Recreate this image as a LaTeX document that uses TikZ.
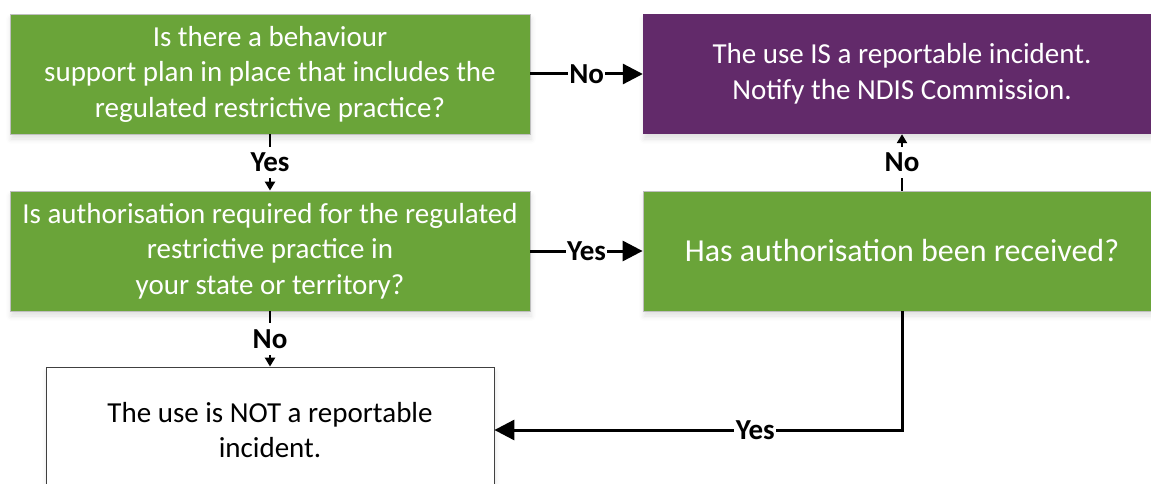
\documentclass[tikz,border=0pt]{standalone}
\usepackage{fontspec}
\setmainfont{Carlito}
\usetikzlibrary{arrows.meta,shadows.blur}
\definecolor{boxgreen}{HTML}{6AA439}
\definecolor{boxpurple}{HTML}{622A6A}
\begin{document}
\begin{tikzpicture}[x=1pt,y=-1pt,
  boxshadow/.style={blur shadow={shadow xshift=1pt,shadow yshift=-5pt,shadow opacity=12,shadow blur radius=5pt}},
  basebox/.style={rectangle, inner sep=0pt, align=center, font=\fontsize{29}{35.5}\selectfont, boxshadow},
  greenbox/.style={basebox, fill=boxgreen, draw=black!25, line width=0.8pt, text=white, minimum width=520pt, minimum height=120pt},
  purplebox/.style={basebox, fill=boxpurple, text=white, minimum width=518pt, minimum height=120pt},
  whitebox/.style={basebox, fill=white, draw=black!75, line width=0.8pt, text=black, minimum width=448pt, minimum height=126pt},
  lbl/.style={fill=white, font=\fontsize{29}{32}\selectfont\bfseries, inner xsep=1.5pt, inner ysep=6pt},
  conn/.style={line width=3pt, -{Triangle[length=20pt,width=20pt]}},
  smallconn/.style={line width=2.5pt, -{Triangle[length=9pt,width=10pt]}}
]
\useasboundingbox (0,0) rectangle (1151,484);
\node[greenbox] (q1) at (270,74) {Is there a behaviour\\support plan in place that includes the\\regulated restrictive practice?};
\node[purplebox] (rep) at (902,74) {The use IS a reportable incident.\\Notify the NDIS Commission.};
\node[greenbox] (q2) at (270,251) {Is authorisation required for the regulated\\restrictive practice in\\your state or territory?};
\node[greenbox, minimum width=518pt, font=\fontsize{32}{38}\selectfont] (q3) at (902,251) {Has authorisation been received?};
\node[whitebox] (not) at (270,430) {The use is NOT a reportable\\incident.};
\draw[conn] (q1.east) -- node[lbl]{No} (rep.west);
\draw[conn] (q2.east) -- node[lbl]{Yes} (q3.west);
\draw[smallconn] (q1.south) -- node[lbl]{Yes} (q2.north);
\draw[smallconn] (q2.south) -- node[lbl]{No} (not.north);
\draw[smallconn] (q3.north) -- node[lbl]{No} (rep.south);
\draw[conn] (q3.south) |- node[lbl,pos=0.68]{Yes} (not.east);
\end{tikzpicture}
\end{document}
